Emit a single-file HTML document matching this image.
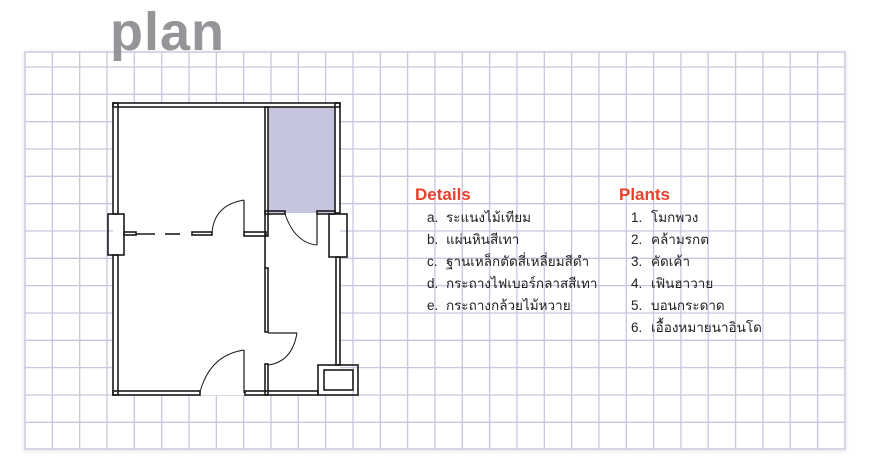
<!DOCTYPE html>
<html><head><meta charset="utf-8"><style>
html,body{margin:0;padding:0;background:#fff;width:870px;height:473px;overflow:hidden}
</style></head><body>
<svg width="870" height="473" xmlns="http://www.w3.org/2000/svg" style="position:absolute;left:0;top:0">
<defs><filter id="sh" x="-5%" y="-5%" width="110%" height="110%"><feDropShadow dx="0" dy="1" stdDeviation="2" flood-color="#000" flood-opacity="0.12"/></filter></defs>
<rect x="25" y="52" width="820" height="397" fill="#fff" stroke="#c9cbe0" stroke-width="1.5" filter="url(#sh)"/>
<path stroke="#c6c8df" stroke-width="1.3" fill="none" d="
M52.3 52V449M79.7 52V449M107 52V449M134.3 52V449M161.7 52V449M189 52V449M216.3 52V449M243.6 52V449M271 52V449M298.3 52V449M325.6 52V449M353 52V449M380.3 52V449M407.6 52V449M434.9 52V449M462.3 52V449M489.6 52V449M516.9 52V449M544.3 52V449M571.6 52V449M598.9 52V449M626.3 52V449M653.6 52V449M680.9 52V449M708.2 52V449M735.6 52V449M762.9 52V449M790.2 52V449M817.6 52V449
M25 67H845M25 94.3H845M25 121.7H845M25 149H845M25 176.3H845M25 203.7H845M25 231H845M25 258.3H845M25 285.6H845M25 313H845M25 340.3H845M25 367.6H845M25 395H845M25 422.3H845"/>
<!-- plan -->
<rect x="113" y="103" width="227" height="292" fill="#fff"/>
<rect x="268" y="107" width="67" height="106" fill="#c5c5e0"/>
<g fill="none" stroke="#1a1a1a" stroke-width="1.6">
<rect x="113" y="103" width="227" height="4"/>
<rect x="113" y="103" width="5" height="111"/>
<rect x="108" y="214" width="16" height="41"/>
<rect x="113" y="255" width="5" height="140"/>
<rect x="113" y="391" width="87" height="4"/>
<rect x="245" y="391" width="73" height="4"/>
<rect x="335" y="103" width="5" height="110"/>
<rect x="329" y="214" width="18" height="43"/>
<rect x="336" y="257" width="4" height="108"/>
<rect x="318" y="365" width="40" height="30"/>
<rect x="324" y="370" width="29" height="20"/>
<rect x="265" y="107" width="3" height="129"/>
<rect x="265" y="211" width="20" height="3"/>
<rect x="317" y="211" width="18" height="3"/>
<rect x="124" y="232" width="12" height="3"/>
<line x1="136" y1="234" x2="155" y2="234"/>
<line x1="165" y1="234" x2="180" y2="234"/>
<rect x="192" y="232" width="20" height="3"/>
<rect x="244" y="232" width="22" height="4"/>
<line x1="265" y1="236" x2="265" y2="268"/>
<rect x="265" y="268" width="3" height="64"/>
<rect x="265" y="364" width="3" height="31"/>
<line x1="244" y1="200" x2="244" y2="233" stroke-width="1.2"/>
<path d="M244 200 Q214 205 212 233" stroke-width="1"/>
<line x1="268" y1="333" x2="297" y2="333" stroke-width="1.2"/>
<path d="M297 333 Q292 362 268 365" stroke-width="1"/>
<line x1="244" y1="350" x2="244" y2="393" stroke-width="1.2"/>
<path d="M244 350 Q210 355 200 392" stroke-width="1"/>
<line x1="317" y1="214" x2="317" y2="245" stroke-width="1.2"/>
<path d="M285 214 Q295 243 317 245" stroke-width="1"/>
</g>
<text x="110" y="50" font-family="Liberation Sans, sans-serif" font-weight="bold" font-size="54" fill="#939598" letter-spacing="1">plan</text>
<g font-family="Liberation Sans, sans-serif" font-weight="bold" font-size="17" fill="#e8412c">
<text x="415" y="200">Details</text>
<text x="619" y="200">Plants</text>
</g>
<g font-family="Liberation Sans, 'Noto Sans CJK SC', sans-serif" font-size="13.5" fill="#222">
<text x="427" y="222">a.</text><text x="446" y="222">ระแนงไม้เทียม</text>
<text x="427" y="244">b.</text><text x="446" y="244">แผ่นหินสีเทา</text>
<text x="427" y="266">c.</text><text x="446" y="266">ฐานเหล็กตัดสี่เหลี่ยมสีดำ</text>
<text x="427" y="288">d.</text><text x="446" y="288">กระถางไฟเบอร์กลาสสีเทา</text>
<text x="427" y="310">e.</text><text x="446" y="310">กระถางกล้วยไม้หวาย</text>
<text x="631" y="222">1.</text><text x="651" y="222">โมกพวง</text>
<text x="631" y="244">2.</text><text x="651" y="244">คล้ามรกต</text>
<text x="631" y="266">3.</text><text x="651" y="266">คัดเค้า</text>
<text x="631" y="288">4.</text><text x="651" y="288">เฟินฮาวาย</text>
<text x="631" y="310">5.</text><text x="651" y="310">บอนกระดาด</text>
<text x="631" y="332">6.</text><text x="651" y="332">เอื้องหมายนาอินโด</text>
</g>
</svg>
</body></html>
